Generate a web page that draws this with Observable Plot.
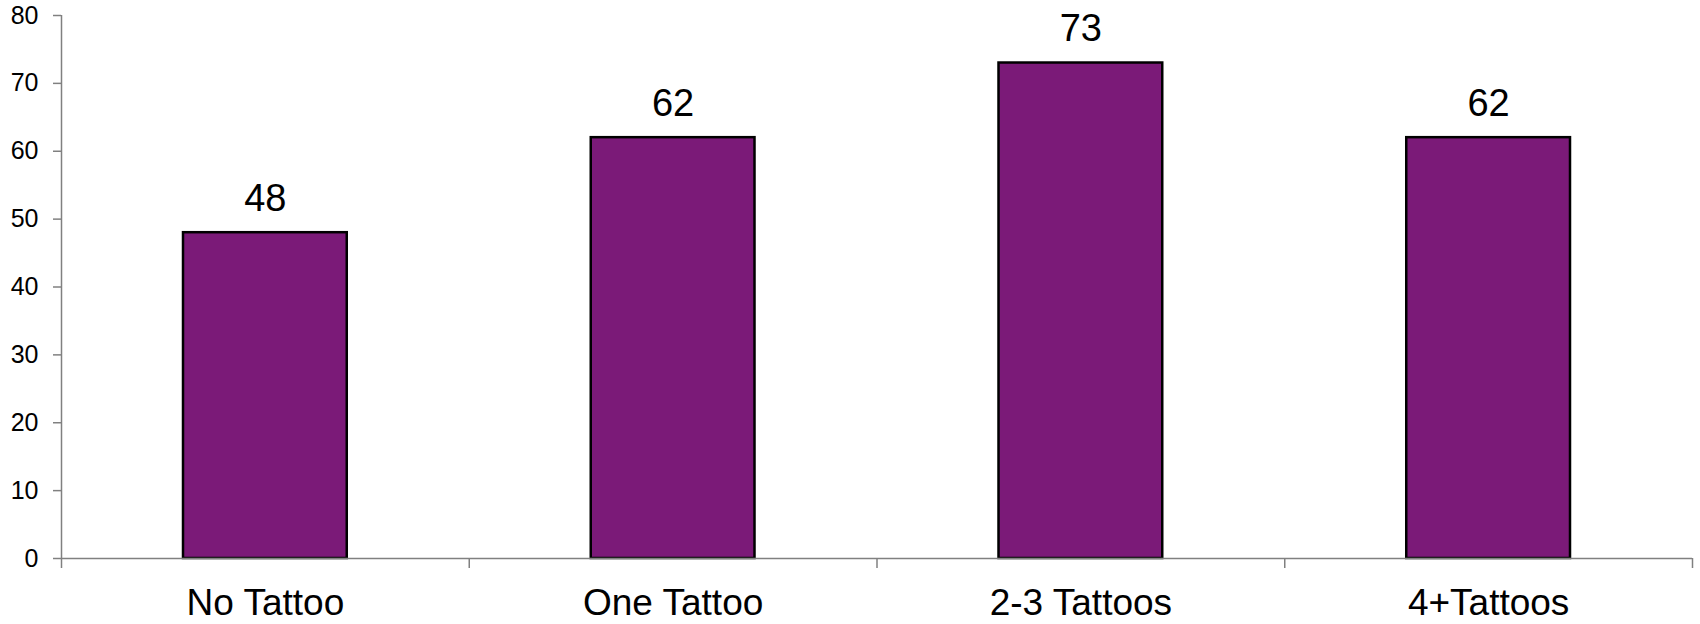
<!DOCTYPE html>
<html>
<head>
<meta charset="utf-8">
<script src="https://cdn.jsdelivr.net/npm/d3@7"></script>
<script src="https://cdn.jsdelivr.net/npm/@observablehq/plot@0.6"></script>
<style>
  html, body { margin: 0; padding: 0; background: #fff; }
  #chart svg { display: block; }
</style>
</head>
<body>
<div id="chart"></div>
<script>
const categories = ["No Tattoo", "One Tattoo", "2-3 Tattoos", "4+Tattoos"];
const values = [48, 62, 73, 62];
const yTicks = [0, 10, 20, 30, 40, 50, 60, 70, 80];

const data = categories.map((c, i) => ({category: c, value: values[i], i}));
const boundaries = d3.range(categories.length + 1);
const centers = categories.map((c, i) => i + 0.5);

const font = "'Liberation Sans', Arial, sans-serif";

const chart = Plot.plot({
  width: 1700,
  height: 624,
  marginLeft: 61,
  marginRight: 8,
  marginTop: 15,
  marginBottom: 66,
  style: {fontFamily: font, background: "#fff", color: "#000"},
  x: {domain: [0, categories.length], axis: null},
  y: {domain: [0, 80], axis: null},
  marks: [
    Plot.rectY(data, {
      x1: d => d.i, x2: d => d.i + 1, y1: 0, y2: "value",
      insetLeft: 122, insetRight: 122,
      fill: "#7B1A78", stroke: "#000", strokeWidth: 2.5
    }),
    Plot.ruleY([0], {stroke: "#808080", strokeWidth: 1.5}),
    Plot.ruleX([0], {y1: 0, y2: 80, stroke: "#808080", strokeWidth: 1.5}),
    Plot.axisY({
      ticks: yTicks, tickSize: 8, tickPadding: 15, fontSize: 25,
      stroke: "#808080", strokeWidth: 1.5, fill: "#000", label: null
    }),
    Plot.axisX({
      ticks: boundaries, tickSize: 10, tickFormat: () => "",
      stroke: "#808080", strokeWidth: 1.5, label: null
    }),
    Plot.axisX({
      ticks: centers, tickSize: 0, tickPadding: 30, fontSize: 37,
      tickFormat: (d, k) => categories[k], fill: "#000", label: null
    }),
    Plot.text(data, {
      x: d => d.i + 0.5, y: "value", text: d => String(d.value),
      lineAnchor: "bottom", dy: -22, fontSize: 38, fill: "#000"
    })
  ]
});
document.getElementById("chart").append(chart);
</script>
</body>
</html>
